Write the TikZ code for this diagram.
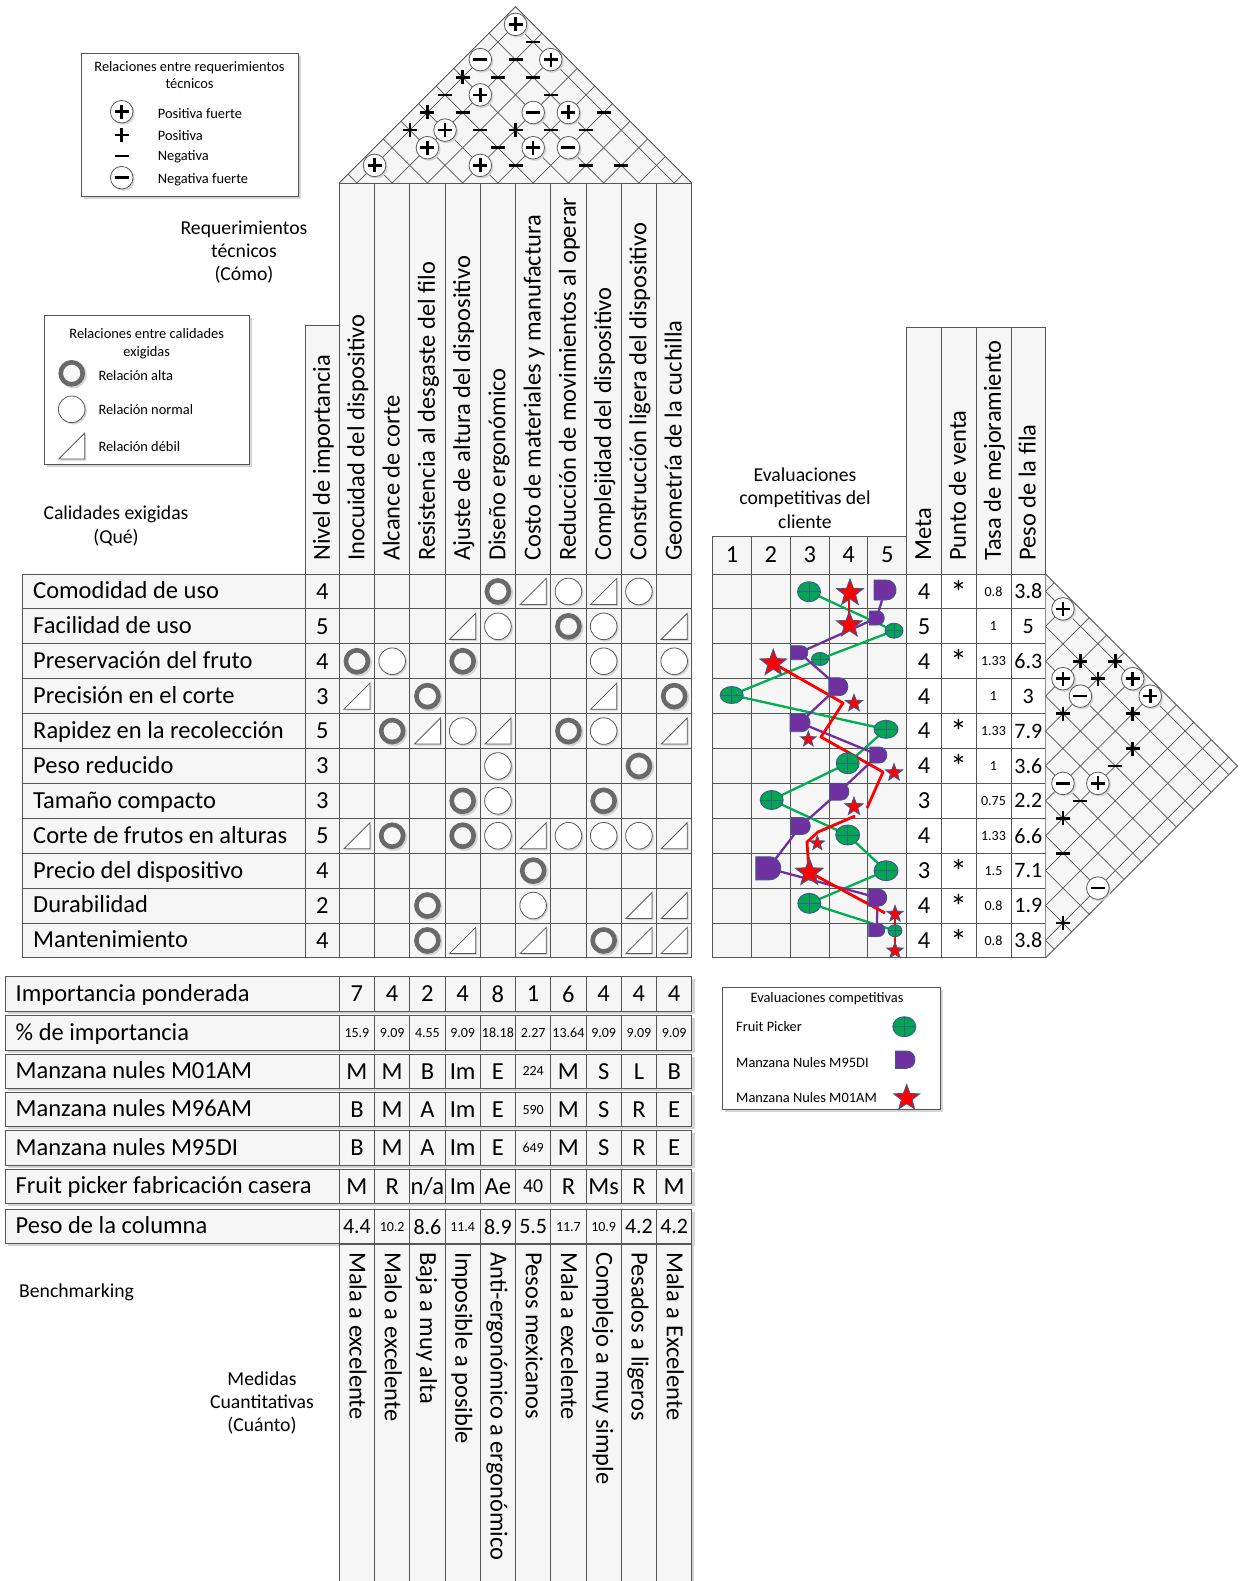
\documentclass[tikz,border=0pt]{standalone}
\usepackage{fontspec}
\setmainfont{Carlito}
\usetikzlibrary{shapes.geometric}
\definecolor{gridc}{RGB}{85,85,85}
\definecolor{cellf}{RGB}{246,246,246}
\definecolor{ringc}{RGB}{105,105,105}
\definecolor{qgreen}{RGB}{0,166,80}
\definecolor{qgline}{RGB}{0,176,80}
\definecolor{qpurple}{RGB}{112,48,160}
\definecolor{qred}{RGB}{255,0,0}
\definecolor{qblue}{RGB}{60,90,140}
\definecolor{shadowc}{RGB}{212,212,212}
\definecolor{symline}{RGB}{90,90,90}
\newcommand\fbig{\fontsize{24.5}{28}\selectfont}
\newcommand\fmid{\fontsize{19.7}{23.4}\selectfont}
\newcommand\fsml{\fontsize{14.4}{17.3}\selectfont}
\newcommand\ftny{\fontsize{14}{16}\selectfont}
\newcommand\fpeso{\fontsize{22}{26}\selectfont}
\newcommand\fast{\fontsize{34}{36}\selectfont}
% matrix relation symbols
\newcommand\qmR[2]{\fill[shadowc] (#1+1.5,#2+1.5) circle[radius=13.5pt];
  \draw[ringc, line width=4.6pt, fill=gray!6] (#1,#2) circle[radius=11pt];}
\newcommand\qmC[2]{\fill[shadowc] (#1+1.5,#2+1.5) circle[radius=13.5pt];
  \draw[symline, line width=0.8pt, fill=white] (#1,#2) circle[radius=13.3pt];}
\newcommand\qmT[2]{\fill[shadowc] (#1-11.5,#2+14.5)--(#1+14.5,#2+14.5)--(#1+14.5,#2-11.5)--cycle;
  \draw[symline, line width=0.8pt, fill=white] (#1-13,#2+13)--(#1+13,#2+13)--(#1+13,#2-13)--cycle;}
% roof symbols
\newcommand\qrP[2]{\fill[shadowc] (#1+1.5,#2+1.5) circle[radius=11.6pt];
  \draw[symline, line width=0.8pt, fill=white] (#1,#2) circle[radius=11.3pt];
  \draw[line width=2.6pt] (#1-7,#2)--(#1+7,#2) (#1,#2-7)--(#1,#2+7);}
\newcommand\qrN[2]{\fill[shadowc] (#1+1.5,#2+1.5) circle[radius=11.6pt];
  \draw[symline, line width=0.8pt, fill=white] (#1,#2) circle[radius=11.3pt];
  \draw[line width=2.6pt] (#1-7,#2)--(#1+7,#2);}
\newcommand\qrp[2]{\draw[line width=2.6pt] (#1-7,#2)--(#1+7,#2) (#1,#2-7)--(#1,#2+7);}
\newcommand\qrn[2]{\draw[line width=2.6pt] (#1-7,#2)--(#1+7,#2);}
% bottom value rows
\newcommand\bvals[4]{\foreach \vv [count=\cc] in {#4}{%
  \pgfmathsetmacro\xx{339.3+35.25*(\cc-0.5)}%
  \node[inner sep=0pt, font=#3] (#1\cc) at (\xx,#2) {\vv};}}
% competitive evaluation data
\def\gdata{809/591.7/23/20, 894/630.7/18/15, 820/659/17/13, 731.7/695/23/17, 886/729.3/24/18, 847.7/763.3/23/21, 771.7/800/23/19, 847.7/835/24/20, 886/870.7/24/20, 809.3/903.3/23/20, 895/930.7/14/12}
\def\ddata{885/590/22/20, 876.7/618/15/14, 799.3/652.7/17/14, 838.3/686.7/19/18, 800/722.7/20/18, 878.3/755/17/16, 839.3/791.7/19/17, 800.7/826/19/17, 768.3/868.3/25/23, 877.7/897.7/18/17, 876.7/930/16/13}
\def\sdata{850/593/28, 849.3/625/27, 773.3/663.3/28, 854/703.3/18, 808.3/739.3/16, 894/772.7/18, 854/806.7/19, 817.3/843.3/15, 809.3/872.7/29, 895/914/17, 895/950.7/17}
\newcommand\qgreensym[4]{\pgfmathsetmacro\rw{#3/2}\pgfmathsetmacro\rh{#4/2}%
  \filldraw[fill=qgreen, draw=qblue, line width=0.9pt] (#1,#2) ellipse[x radius=\rw pt, y radius=\rh pt];
  \draw[qblue, line width=0.9pt] (#1-\rw,#2) -- (#1+\rw,#2) (#1,#2-\rh) -- (#1,#2+\rh);}
\newcommand\qdsym[4]{\pgfmathsetmacro\xa{#1-#3/2}\pgfmathsetmacro\xb{#1+#3/2-#4/2}%
  \pgfmathsetmacro\xc{\xb+0.667*#4}\pgfmathsetmacro\ya{#2-#4/2}\pgfmathsetmacro\yb{#2+#4/2}%
  \filldraw[fill=qpurple, draw=qblue, line width=0.9pt] (\xa,\ya) -- (\xb,\ya) .. controls (\xc,\ya) and (\xc,\yb) .. (\xb,\yb) -- (\xa,\yb) -- cycle;}
\begin{document}
\begin{tikzpicture}[x=1pt,y=-1pt,
  cellbox/.style={draw=gridc, line width=0.9pt, fill=cellf},
  lblb/.style={inner sep=0pt, font=\fbig, text height=18pt, text depth=3.3pt},
  lbls/.style={inner sep=0pt, font=\fsml, text height=10.8pt, text depth=2.2pt},
  val/.style={inner sep=0pt},
  gline/.style={qgline, line width=2.3pt, line join=round},
  pline/.style={qpurple, line width=2.3pt, line join=round},
  rline/.style={qred, line width=2.8pt, line join=round},
  starsym/.style={star, star points=5, star point ratio=2.4, fill=qred, draw=qblue, line width=0.9pt, inner sep=0pt},
  legbox/.style={draw=gridc, line width=0.9pt, fill=white}]
\useasboundingbox (0,0) rectangle (1242,1581);
\fill[white] (0,0) rectangle (1242,1581);

% ---------- top roof ----------
\fill[cellf] (339.3,183) -- (515.5,6.8) -- (691.7,183) -- cycle;
\foreach \k in {1,...,10}{
  \pgfmathsetmacro\ck{339.3+35.25*(\k-0.5)}
  \pgfmathsetmacro\tr{(691.7-\ck)/2}
  \pgfmathsetmacro\tl{(\ck-339.3)/2}
  \pgfmathsetmacro\xr{\ck+\tr}\pgfmathsetmacro\yr{183-\tr}
  \pgfmathsetmacro\xq{\ck-\tl}\pgfmathsetmacro\yq{183-\tl}
  \draw[gridc, line width=0.7pt] (\ck,183) -- (\xr,\yr);
  \draw[gridc, line width=0.7pt] (\ck,183) -- (\xq,\yq);
}
\draw[gridc, line width=0.9pt] (339.3,183) -- (515.5,6.8) -- (691.7,183);
\foreach \i/\j/\tp in {1/10/P, 2/10/n, 1/8/N, 2/9/n, 3/10/P, 1/7/p, 2/8/n, 3/9/n, 1/6/n, 2/7/P, 4/9/n, 1/5/p, 2/6/n, 4/8/N, 5/9/P, 6/10/n, 1/4/p, 2/5/P, 3/6/n, 4/7/p, 5/8/n, 6/9/n, 2/4/P, 4/6/n, 5/7/P, 6/8/N, 1/2/P, 4/5/P, 5/6/n, 7/8/n, 8/9/n}{
  \pgfmathsetmacro\xx{339.3+35.25*((\i+\j)/2-0.5)}
  \pgfmathsetmacro\yy{183-17.625*(\j-\i)}
  \csname qr\tp\endcsname{\xx}{\yy}
}

% ---------- technical requirement headers ----------
\foreach \txt [count=\k] in {Inocuidad del dispositivo, Alcance de corte, Resistencia al desgaste del filo, Ajuste de altura del dispositivo, Diseño ergonómico, Costo de materiales y manufactura, Reducción de movimientos al operar, Complejidad del dispositivo, Construcción ligera del dispositivo, Geometría de la cuchilla}{
  \pgfmathsetmacro\xl{339.3+35.25*(\k-1)}
  \pgfmathsetmacro\xm{\xl+17.625}
  \draw[cellbox] (\xl,183) rectangle +(35.25,391);
  \node[lblb, rotate=90, anchor=west] (hd\k) at (\xm,561) {\txt};
}
\draw[cellbox] (305.5,325) rectangle (339.3,574);
\node[lblb, rotate=90, anchor=west] (hdimp) at (322.4,561) {Nivel de importancia};

% ---------- main rows ----------
\foreach \lab/\imp/\met/\pv/\ts/\pw [count=\r] in {
 Comodidad de uso/4/4/*/0.8/3.8,
 Facilidad de uso/5/5/{}/1/5,
 Preservación del fruto/4/4/*/1.33/6.3,
 Precisión en el corte/3/4/{}/1/3,
 Rapidez en la recolección/5/4/*/1.33/7.9,
 Peso reducido/3/4/*/1/3.6,
 Tamaño compacto/3/3/{}/0.75/2.2,
 Corte de frutos en alturas/5/4/{}/1.33/6.6,
 Precio del dispositivo/4/3/*/1.5/7.1,
 Durabilidad/2/4/*/0.8/1.9,
 Mantenimiento/4/4/*/0.8/3.8}{
  \pgfmathsetmacro\yt{574+34.9*(\r-1)}
  \pgfmathsetmacro\yc{\yt+17.45}
  \pgfmathsetmacro\ya{\yc+0.5}
  \draw[cellbox] (22,\yt) rectangle (305.5,\yt+34.9);
  \draw[cellbox] (305.5,\yt) rectangle (339.3,\yt+34.9);
  \foreach \cc in {1,...,10}{
    \pgfmathsetmacro\xl{339.3+35.25*(\cc-1)}
    \draw[cellbox] (\xl,\yt) rectangle +(35.25,34.9);}
  \node[lblb, anchor=west] (q\r) at (33,\yc) {\lab};
  \node[val, font=\fbig] (imp\r) at (322.4,\yc) {\imp};
  \node[val, font=\fbig] (met\r) at (924,\yc) {\met};
  \node[val, font=\fast] (pv\r) at (958.5,\ya) {\pv};
  \node[val, font=\ftny] (ts\r) at (993.5,\yc) {\ts};
  \node[val, font=\fpeso] (pw\r) at (1028.3,\yc) {\pw};
}
% relation symbols
\foreach \r/\cc/\tp in {1/5/R,1/6/T,1/7/C,1/8/T,1/9/C, 2/4/T,2/5/C,2/7/R,2/8/C,2/10/T, 3/1/R,3/2/C,3/4/R,3/8/C,3/10/C, 4/1/T,4/3/R,4/8/T,4/10/R, 5/2/R,5/3/T,5/4/C,5/5/T,5/7/R,5/8/C,5/10/T, 6/5/C,6/9/R, 7/4/R,7/5/C,7/8/R, 8/1/T,8/2/R,8/4/R,8/5/C,8/6/T,8/7/C,8/8/C,8/9/C,8/10/T, 9/6/R, 10/3/R,10/6/C,10/9/T,10/10/T, 11/3/R,11/4/T,11/6/T,11/8/R,11/9/T,11/10/T}{
  \pgfmathsetmacro\xx{339.3+35.25*(\cc-0.5)}
  \pgfmathsetmacro\yy{574+34.9*(\r-0.5)}
  \csname qm\tp\endcsname{\xx}{\yy}
}

% ---------- right table ----------
\foreach \xl/\xr/\txt [count=\k] in {906.7/941/Meta, 941/976/Punto de venta, 976/1011/Tasa de mejoramiento, 1011/1045.5/Peso de la fila}{
  \pgfmathsetmacro\xm{(\xl+\xr)/2}
  \draw[cellbox] (\xl,327) rectangle (\xr,574);
  \node[lblb, rotate=90, anchor=west] (rh\k) at (\xm,561) {\txt};
  \foreach \r in {1,...,11}{
    \pgfmathsetmacro\yt{574+34.9*(\r-1)}\pgfmathsetmacro\yb{\yt+34.9}
    \draw[cellbox, fill=none] (\xl,\yt) rectangle (\xr,\yb);}
}
% ---------- competitive evaluation grid ----------
\foreach \k in {1,...,5}{
  \pgfmathsetmacro\xl{712.7+38.8*(\k-1)}
  \pgfmathsetmacro\xm{\xl+19.4}
  \draw[cellbox] (\xl,536) rectangle +(38.8,38);
  \node[val, font=\fbig] (ev\k) at (\xm,555) {\k};
  \foreach \r in {1,...,11}{
    \pgfmathsetmacro\yt{574+34.9*(\r-1)}
    \draw[cellbox] (\xl,\yt) rectangle +(38.8,34.9);}
}
\node[font=\fmid, align=center, inner sep=0pt] (evt) at (805,498) {Evaluaciones\\competitivas del\\cliente};

% ---------- right roof ----------
\fill[cellf] (1045.5,574) -- (1237.5,766) -- (1045.5,958) -- cycle;
\foreach \k in {1,...,11}{
  \pgfmathsetmacro\yk{574+34.9*(\k-0.5)}
  \pgfmathsetmacro\td{(958-\yk)/2}
  \pgfmathsetmacro\tu{(\yk-574)/2}
  \pgfmathsetmacro\xd{1045.5+\td}\pgfmathsetmacro\yd{\yk+\td}
  \pgfmathsetmacro\xu{1045.5+\tu}\pgfmathsetmacro\yu{\yk-\tu}
  \draw[gridc, line width=0.7pt] (1045.5,\yk) -- (\xd,\yd);
  \draw[gridc, line width=0.7pt] (1045.5,\yk) -- (\xu,\yu);
}
\draw[gridc, line width=0.9pt] (1045.5,574) -- (1237.5,766) -- (1045.5,958);
\foreach \i/\j/\tp in {1/2/P, 2/4/p, 1/5/p, 3/4/P, 2/5/p, 1/6/P, 3/5/N, 1/7/P, 4/5/p, 2/7/p, 3/8/p, 4/8/n, 6/7/N, 5/8/P, 6/8/n, 7/8/p, 8/9/n, 8/11/N, 10/11/p}{
  \pgfmathsetmacro\xx{1045.5+17.45*(\j-\i)}
  \pgfmathsetmacro\yy{574+34.9*((\i+\j)/2-0.5)}
  \csname qr\tp\endcsname{\xx}{\yy}
}

% ---------- evaluation lines and symbols ----------
\foreach \x/\y/\w/\h [count=\k] in \gdata {\coordinate (g\k) at (\x,\y);}
\foreach \x/\y/\w/\h [count=\k] in \ddata {\coordinate (d\k) at (\x,\y);}
\draw[gline] (g1)--(g2)--(g3)--(g4)--(g5)--(g6)--(g7)--(g8)--(g9)--(g10)--(g11);
\draw[pline] (d1)--(d2)--(d3)--(d4)--(d5)--(d6)--(d7)--(d8)--(d9)--(d10)--(d11);
\coordinate (ra1) at (849,593); \coordinate (ra2) at (849,625);
\coordinate (rb1) at (773,663); \coordinate (rb2) at (843,703); \coordinate (rb3) at (821,737);
\coordinate (rb4) at (883,772); \coordinate (rb5) at (867,808);
\coordinate (rc1) at (855,816); \coordinate (rc2) at (818,832); \coordinate (rc3) at (807,842);
\coordinate (rc4) at (809,872); \coordinate (rc5) at (885,913);
\coordinate (rd1) at (895,914); \coordinate (rd2) at (895,951);
\draw[rline] (ra1)--(ra2);
\draw[rline] (rb1)--(rb2)--(rb3)--(rb4)--(rb5);
\draw[rline] (rc1)--(rc2)--(rc3)--(rc4)--(rc5);
\draw[rline] (rd1)--(rd2);
\foreach \x/\y/\w/\h in \gdata {\qgreensym{\x}{\y}{\w}{\h}}
\foreach \x/\y/\w/\h in \ddata {\qdsym{\x}{\y}{\w}{\h}}
\foreach \x/\y/\s [count=\k] in \sdata {\node[starsym, minimum size=\s pt] (st\k) at (\x,\y) {};}

% ---------- bottom rows ----------
\foreach \yt/\lab [count=\n] in {976.7/Importancia ponderada, 1015.5/\% de importancia, 1054/Manzana nules M01AM, 1092.3/Manzana nules M96AM, 1130.7/Manzana nules M95DI, 1169.3/Fruit picker fabricación casera, 1209.3/Peso de la columna}{
  \fill[shadowc] (7.5,\yt+2.5) rectangle (694.5,\yt+37);
  \draw[cellbox] (5,\yt) rectangle (339.3,\yt+34.5);
  \foreach \cc in {1,...,10}{
    \pgfmathsetmacro\xl{339.3+35.25*(\cc-1)}
    \draw[cellbox] (\xl,\yt) rectangle +(35.25,34.5);}
  \node[lblb, anchor=west] (b\n) at (15.5,\yt+17.25) {\lab};
}
\bvals{ip}{994}{\fbig}{7,4,2,4,8,1,6,4,4,4}
\bvals{pi}{1032.8}{\ftny}{15.9,9.09,4.55,9.09,18.18,2.27,13.64,9.09,9.09,9.09}
\bvals{ma}{1071.3}{\fbig}{M,M,B,Im,E,{\ftny 224},M,S,L,B}
\bvals{mb}{1109.6}{\fbig}{B,M,A,Im,E,{\ftny 590},M,S,R,E}
\bvals{mc}{1148}{\fbig}{B,M,A,Im,E,{\ftny 649},M,S,R,E}
\bvals{fp}{1186.6}{\fbig}{M,R,{n/a},Im,Ae,{\fmid 40},R,Ms,R,M}
\bvals{pc}{1226.6}{\fpeso}{4.4,{\ftny 10.2},8.6,{\ftny 11.4},8.9,5.5,{\ftny 11.7},{\ftny 10.9},4.2,4.2}

% ---------- quantitative measures ----------
\foreach \txt [count=\k] in {Mala a excelente, Malo a excelente, Baja a muy alta, Imposible a posible, Anti-ergonómico a ergonómico, Pesos mexicanos, Mala a excelente, Complejo a muy simple, Pesados a ligeros, Mala a Excelente}{
  \pgfmathsetmacro\xl{339.3+35.25*(\k-1)}
  \pgfmathsetmacro\xm{\xl+17.625}
  \fill[shadowc] (\xl+2.5,1246) rectangle +(35.25,340);
  \draw[cellbox] (\xl,1244) rectangle +(35.25,345);
  \node[lblb, rotate=-90, anchor=west] (m\k) at (\xm,1252) {\txt};
}

% ---------- side labels ----------
\node[font=\fmid, align=center, inner sep=0pt] (req) at (244,252) {Requerimientos\\técnicos\\(Cómo)};
\node[font=\fmid, align=center, inner sep=0pt] (cal) at (116,526) {Calidades exigidas\\(Qué)};
\node[font=\fmid, anchor=west, inner sep=0pt] (bench) at (19,1292) {Benchmarking};
\node[font=\fmid, align=center, inner sep=0pt] (med) at (262,1403) {Medidas\\Cuantitativas\\(Cuánto)};

% ---------- legend 1 ----------
\fill[shadowc] (84,56.5) rectangle (301,199);
\draw[legbox] (81,53.5) rectangle (298,196);
\node[font=\fsml, align=center, inner sep=0pt] (l1t) at (189.5,75) {Relaciones entre requerimientos\\técnicos};
\qrP{121.7}{111.7}
\qrp{121.7}{135}
\qrn{121.7}{156}
\qrN{121.7}{177.7}
\node[lbls, anchor=west] (l1a) at (157.7,114) {Positiva fuerte};
\node[lbls, anchor=west] (l1b) at (157.7,136) {Positiva};
\node[lbls, anchor=west] (l1c) at (157.7,156.5) {Negativa};
\node[lbls, anchor=west] (l1d) at (157.7,179) {Negativa fuerte};

% ---------- legend 2 ----------
\fill[shadowc] (47,318) rectangle (252.3,467);
\draw[legbox] (44,315) rectangle (249.3,464);
\node[font=\fsml, align=center, inner sep=0pt] (l2t) at (146.7,343.8) {Relaciones entre calidades\\exigidas};
\qmR{71.7}{373.3}
\qmC{71.7}{409.3}
\qmT{71.7}{446}
\node[lbls, anchor=west] (l2a) at (98.3,376.5) {Relación alta};
\node[lbls, anchor=west] (l2b) at (98.3,410) {Relación normal};
\node[lbls, anchor=west] (l2c) at (98.3,447) {Relación débil};

% ---------- legend 3 ----------
\fill[shadowc] (725,990) rectangle (943,1112);
\draw[legbox] (722,987) rectangle (940,1109);
\node[lbls] (l3t) at (827,998) {Evaluaciones competitivas};
\node[lbls, anchor=west] (l3a) at (736,1027) {Fruit Picker};
\node[lbls, anchor=west] (l3b) at (736,1063) {Manzana Nules M95DI};
\node[lbls, anchor=west] (l3c) at (736,1098.5) {Manzana Nules M01AM};
\qgreensym{904.3}{1026.7}{23}{20}
\qdsym{905.3}{1059.7}{19.3}{17.3}
\node[starsym, minimum size=27pt] (l3s) at (906.7,1098) {};
\end{tikzpicture}
\end{document}
